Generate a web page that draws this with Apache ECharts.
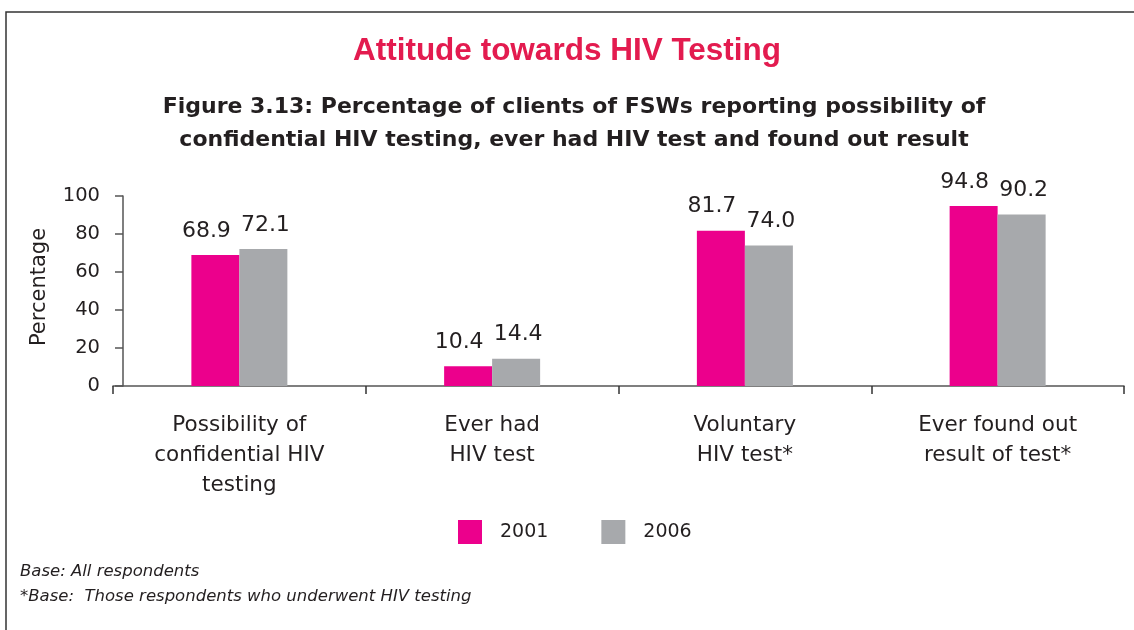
<!DOCTYPE html>
<html>
<head>
<meta charset="utf-8">
<script src="https://cdn.jsdelivr.net/npm/echarts@6/dist/echarts.min.js"></script>
<style>
  html, body { margin: 0; padding: 0; background: #fff; }
  #main { width: 1134px; height: 630px; }
</style>
</head>
<body>
<div id="main"></div>
<script>
var categories = [
    'Possibility of\nconfidential HIV\ntesting',
    'Ever had\nHIV test',
    'Voluntary\nHIV test*',
    'Ever found out\nresult of test*'
];
var values2001 = [68.9, 10.4, 81.7, 94.8];
var values2006 = [72.1, 14.4, 74.0, 90.2];
var yTicks = [0, 20, 40, 60, 80, 100];

var titleFont = '"Liberation Sans", Arial, sans-serif';
var fontName = '"DejaVu Sans", Verdana, sans-serif';
var txt = '#231f20';

var myChart = echarts.init(document.getElementById('main'));

var option = {
    backgroundColor: '#fff',
    animation: false,
    title: {
        text: 'Attitude towards HIV Testing',
        left: 'center',
        top: 35,
        padding: 0,
        textStyle: { color: '#e31b4f', fontSize: 31.5, fontWeight: 'bold', fontFamily: titleFont }
    },
    legend: {
        data: ['2001', '2006'],
        left: 453,
        top: 515,
        icon: 'rect',
        itemWidth: 24,
        itemHeight: 24,
        itemGap: 53,
        textStyle: { color: txt, fontSize: 19, fontFamily: fontName, padding: [0, 0, 0, 13] }
    },
    grid: { left: 113, right: 10, top: 196, bottom: 244 },
    xAxis: {
        type: 'category',
        data: categories,
        axisLine: { lineStyle: { color: '#555', width: 1.5 } },
        axisTick: { show: true, length: 8, lineStyle: { color: '#333', width: 1.5 } },
        axisLabel: { color: txt, fontSize: 21.5, fontFamily: fontName, lineHeight: 30, margin: 24 }
    },
    yAxis: {
        type: 'value',
        min: yTicks[0],
        max: yTicks[yTicks.length - 1],
        interval: 20,
        offset: -10,
        name: 'Percentage',
        nameLocation: 'middle',
        nameGap: 73,
        nameTextStyle: { color: txt, fontSize: 21, fontFamily: fontName, padding: [0, 0, 0, 8] },
        axisLine: { show: true, lineStyle: { color: '#555', width: 1.5 } },
        axisTick: { show: true, length: 8, lineStyle: { color: '#555', width: 1.5 } },
        splitLine: { show: false },
        axisLabel: { color: txt, fontSize: 19.5, fontFamily: fontName, margin: 23 }
    },
    series: [
        {
            name: '2001',
            type: 'bar',
            data: values2001,
            barWidth: 48,
            barGap: '0%',
            itemStyle: { color: '#ec008c' },
            label: {
                show: true, position: 'top', distance: 13, offset: [-9, 0],
                color: txt, fontSize: 22, fontFamily: fontName,
                formatter: function (p) { return p.value.toFixed(1); }
            }
        },
        {
            name: '2006',
            type: 'bar',
            data: values2006,
            barWidth: 48,
            itemStyle: { color: '#a7a9ac' },
            label: {
                show: true, position: 'top', distance: 13, offset: [2, 0],
                color: txt, fontSize: 22, fontFamily: fontName,
                formatter: function (p) { return p.value.toFixed(1); }
            }
        }
    ],
    graphic: [
        {
            type: 'rect',
            shape: { x: 6, y: 12, width: 1200, height: 700 },
            style: { fill: 'none', stroke: '#333', lineWidth: 1.5 },
            silent: true
        },
        {
            type: 'text',
            x: 574,
            y: 124,
            style: {
                text: 'Figure 3.13: Percentage of clients of FSWs reporting possibility of\nconfidential HIV testing, ever had HIV test and found out result',
                fill: txt,
                font: 'bold 22px ' + fontName,
                lineHeight: 33,
                textAlign: 'center',
                textVerticalAlign: 'middle'
            }
        },
        {
            type: 'text',
            x: 20,
            y: 572,
            style: { text: 'Base: All respondents', fill: txt, font: 'italic 16.5px ' + fontName, textVerticalAlign: 'middle' }
        },
        {
            type: 'text',
            x: 20,
            y: 597,
            style: { text: '*Base:  Those respondents who underwent HIV testing', fill: txt, font: 'italic 16.5px ' + fontName, textVerticalAlign: 'middle' }
        }
    ]
};

myChart.setOption(option);
</script>
</body>
</html>
